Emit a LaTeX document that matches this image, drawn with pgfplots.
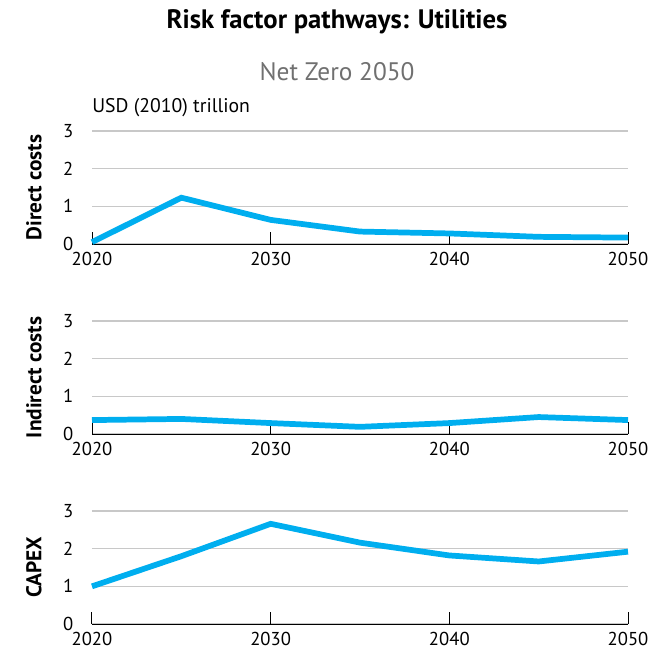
\documentclass[border=0pt]{standalone}
\usepackage{pgfplots}
\pgfplotsset{compat=1.18}
\usepackage{fontspec}
\setmainfont{PT Sans}
\definecolor{lineblue}{HTML}{00AEEF}
\definecolor{gridgray}{HTML}{C8C8C8}
\definecolor{subgray}{HTML}{707070}
\pgfplotsset{
  panel/.style={
    scale only axis, width=402pt, height=84.75pt,
    xmin=2020, xmax=2050, ymin=0, ymax=3,
    axis x line*=bottom, axis y line*=left,
    y axis line style={draw=none},
    x axis line style={black, line width=0.75pt, -},
    xtick={2020,2030,2040,2050}, ytick={0,1,2,3},
    ymajorgrids, grid style={gridgray, line width=0.8pt},
    tick align=inside, major tick length=9pt,
    xtick style={black, line width=0.75pt},
    ytick style={draw=none},
    tick label style={font=\fontsize{14}{14}\selectfont},
    /pgf/number format/assume math mode=true,
    xticklabel style={/pgf/number format/1000 sep={}, yshift=-2.5pt},
    yticklabel style={xshift=-10.5pt},
    every axis y label/.style={font=\bfseries\fontsize{16}{16}\selectfont, at={(axis description cs:0,0.5)}, rotate=90, anchor=center, yshift=43.5pt},
    clip=false,
  },
  pline/.style={lineblue, line width=4.3pt, no markers},
}
\pgfplotstableread{
year direct indirect capex
2020 0.05 0.37 1.00
2025 1.23 0.40 1.80
2030 0.64 0.29 2.66
2035 0.33 0.19 2.16
2040 0.28 0.29 1.82
2045 0.19 0.45 1.66
2050 0.17 0.37 1.92
}\datatable
\begin{document}
\begin{tikzpicture}
\useasboundingbox (-69pt,-20.25pt) rectangle (420pt,468pt);
\begin{axis}[panel, at={(0,285pt)}, anchor=south west, ylabel={Direct costs}]
\addplot[pline] table[x=year, y=direct] {\datatable};
\end{axis}
\begin{axis}[panel, at={(0,142.5pt)}, anchor=south west, ylabel={Indirect costs}]
\addplot[pline] table[x=year, y=indirect] {\datatable};
\end{axis}
\begin{axis}[panel, at={(0,0)}, anchor=south west, ylabel={CAPEX}]
\addplot[pline] table[x=year, y=capex] {\datatable};
\end{axis}
\node[font=\bfseries\fontsize{20}{20}\selectfont] at (183.75pt,451.5pt) {Risk factor pathways: Utilities};
\node[font=\fontsize{19}{19}\selectfont, text=subgray] at (183.75pt,414pt) {Net Zero 2050};
\node[font=\fontsize{14.8}{14.8}\selectfont, anchor=base west, inner sep=0pt] at (0,384pt) {USD (2010) trillion};
\end{tikzpicture}
\end{document}
